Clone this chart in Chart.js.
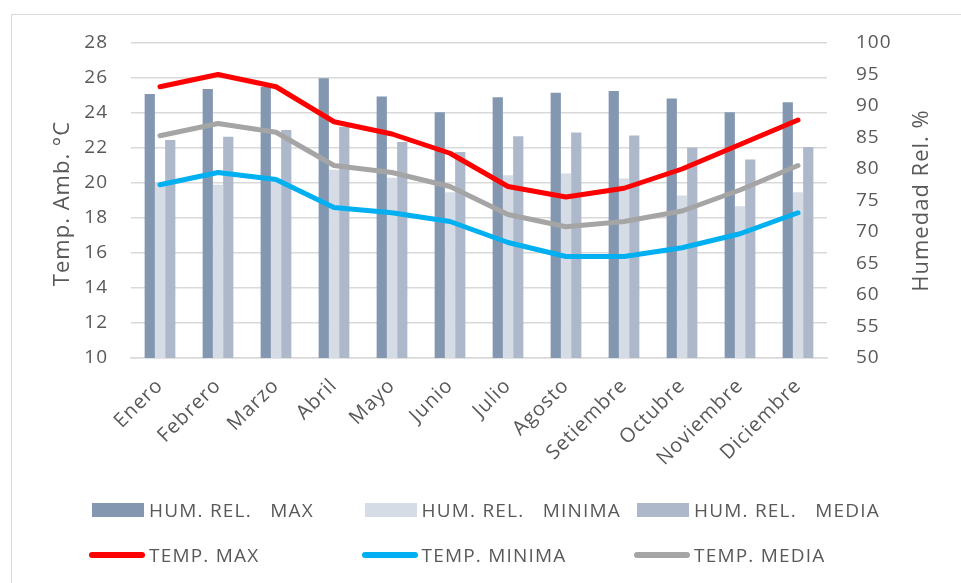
<!DOCTYPE html>
<html lang="es">
<head>
<meta charset="utf-8">
<title>Temperatura y humedad relativa mensual</title>
<script src="https://cdn.jsdelivr.net/npm/chart.js@4/dist/chart.umd.min.js"></script>
<style>
  html, body { margin: 0; padding: 0; background: #ffffff; }
  #wrap { position: relative; width: 961px; height: 583px; overflow: hidden; }
  #frame { position: absolute; left: 11px; top: 14px; width: 2000px; height: 2000px;
           border-left: 1px solid #d9d9d9; border-top: 1px solid #d9d9d9; }
  #chart { position: absolute; left: 0; top: 0; }
  .lg-item { position: absolute; height: 30px; display: flex; align-items: center; }
  .lg-swatch { width: 60px; height: 30px; position: relative; flex: none; }
  .lg-text { font-family: "Open Sans", sans-serif; font-size: 19px; letter-spacing: 1.2px;
             color: #595959; white-space: pre; line-height: 30px; }
</style>
</head>
<body>
<div id="wrap">
  <div id="frame"></div>
  <canvas id="chart" width="961" height="583"></canvas>
  <div id="legend"></div>
</div>
<script>
// Month names on the category axis
const months = ['Enero', 'Febrero', 'Marzo', 'Abril', 'Mayo', 'Junio',
                'Julio', 'Agosto', 'Setiembre', 'Octubre', 'Noviembre', 'Diciembre'];

// Relative humidity (%), right axis
const humMax   = [91.9, 92.7, 93.0, 94.4, 91.5, 89.0, 91.4, 92.1, 92.4, 91.2, 89.0, 90.6];
const humMin   = [77.8, 77.5, 78.0, 79.9, 78.6, 76.3, 79.0, 79.3, 78.5, 75.8, 74.1, 76.3];
const humMedia = [84.6, 85.1, 86.2, 86.7, 84.3, 82.7, 85.2, 85.8, 85.3, 83.4, 81.5, 83.5];

// Ambient temperature (°C), left axis
const tempMax   = [25.5, 26.2, 25.5, 23.5, 22.8, 21.7, 19.8, 19.2, 19.7, 20.8, 22.2, 23.6];
const tempMin   = [19.9, 20.6, 20.2, 18.6, 18.3, 17.8, 16.6, 15.8, 15.8, 16.3, 17.1, 18.3];
const tempMedia = [22.7, 23.4, 22.9, 21.0, 20.6, 19.8, 18.2, 17.5, 17.8, 18.4, 19.6, 21.0];

// Series names
const seriesNames = ['HUM. REL.   MAX', 'HUM. REL.   MINIMA', 'HUM. REL.   MEDIA',
                     'TEMP. MAX', 'TEMP. MINIMA', 'TEMP. MEDIA'];

// Axis titles
const tempAxisTitle = 'Temp. Amb. °C';
const humAxisTitle = 'Humedad Rel. %';

const textColor = '#595959';
const gridColor = '#d9d9d9';
const fontFamily = '"Open Sans", sans-serif';

// Draws both axis titles reading bottom-to-top, and sets the text tracking
const axisTitles = {
  id: 'axisTitles',
  beforeDraw(chart) {
    chart.ctx.letterSpacing = '1px';
  },
  afterDraw(chart) {
    const { ctx, chartArea } = chart;
    const cy = (chartArea.top + chartArea.bottom) / 2;
    ctx.save();
    ctx.font = '22px ' + fontFamily;
    ctx.fillStyle = textColor;
    ctx.textAlign = 'center';
    ctx.textBaseline = 'middle';
    ctx.save();
    ctx.translate(chartArea.left - 68, cy + 3);
    ctx.rotate(-Math.PI / 2);
    ctx.fillText(tempAxisTitle, 0, 0);
    ctx.restore();
    ctx.save();
    ctx.translate(chartArea.right + 95, cy);
    ctx.rotate(-Math.PI / 2);
    ctx.fillText(humAxisTitle, 0, 0);
    ctx.restore();
    ctx.restore();
  }
};

function barSet(label, data, color) {
  return { type: 'bar', label, data, backgroundColor: color, yAxisID: 'yH',
           order: 2, categoryPercentage: 0.53, barPercentage: 1.0, borderWidth: 0 };
}
function lineSet(label, data, color) {
  return { type: 'line', label, data, borderColor: color, backgroundColor: color,
           yAxisID: 'yT', order: 1, borderWidth: 5, pointRadius: 0, tension: 0,
           borderCapStyle: 'round', borderJoinStyle: 'round', fill: false };
}

function build() {
  const chart = new Chart(document.getElementById('chart'), {
    data: {
      labels: months,
      datasets: [
        barSet(seriesNames[0], humMax, '#8497b0'),
        barSet(seriesNames[1], humMin, '#d6dce5'),
        barSet(seriesNames[2], humMedia, '#adb9ca'),
        lineSet(seriesNames[3], tempMax, '#ff0000'),
        lineSet(seriesNames[4], tempMin, '#00b0f0'),
        lineSet(seriesNames[5], tempMedia, '#a5a5a5')
      ]
    },
    options: {
      responsive: false,
      animation: false,
      layout: { padding: { top: 43, left: 0, right: 0, bottom: 0 } },
      plugins: { legend: { display: false }, tooltip: { enabled: false } },
      scales: {
        x: {
          grid: { display: false },
          border: { display: true, color: gridColor, width: 1.5 },
          ticks: { color: textColor, font: { family: fontFamily, size: 20 },
                   minRotation: 45, maxRotation: 45, autoSkip: false, padding: 8 },
          afterFit(s) { s.height = 225; s.paddingLeft = 0; s.paddingRight = 0; }
        },
        yT: {
          position: 'left', min: 10, max: 28,
          grid: { color: gridColor, lineWidth: 1.5, drawTicks: false },
          border: { display: false },
          ticks: { stepSize: 2, color: textColor, padding: 23,
                   font: { family: fontFamily, size: 19 } },
          afterFit(s) { s.width = 131; s.paddingTop = 0; s.paddingBottom = 0; }
        },
        yH: {
          position: 'right', min: 50, max: 100,
          grid: { drawOnChartArea: false, drawTicks: false },
          border: { display: false },
          ticks: { stepSize: 5, color: textColor, padding: 29,
                   font: { family: fontFamily, size: 19 } },
          afterFit(s) { s.width = 134; s.paddingTop = 0; s.paddingBottom = 0; }
        }
      }
    },
    plugins: [axisTitles]
  });

  // Legend: three columns, bars on the first row, lines on the second
  const legend = document.getElementById('legend');
  chart.data.datasets.forEach((ds, i) => {
    const row = Math.floor(i / 3), col = i % 3;
    const item = document.createElement('div');
    item.className = 'lg-item';
    item.style.left = (89 + col * 272.5) + 'px';
    item.style.top = (row === 0 ? 495 : 540) + 'px';
    const sw = document.createElement('div');
    sw.className = 'lg-swatch';
    const mark = document.createElement('div');
    mark.style.position = 'absolute';
    if (ds.type === 'bar') {
      Object.assign(mark.style, { left: '3px', top: '8px', width: '52px', height: '14px',
                                  background: ds.backgroundColor });
    } else {
      Object.assign(mark.style, { left: '0px', top: '12px', width: '56px', height: '6px',
                                  borderRadius: '3px', background: ds.borderColor });
    }
    sw.appendChild(mark);
    const tx = document.createElement('span');
    tx.className = 'lg-text';
    tx.textContent = ds.label;
    item.appendChild(sw);
    item.appendChild(tx);
    legend.appendChild(item);
  });
}

if (document.fonts && document.fonts.load) {
  document.fonts.load('20px "Open Sans"').then(build, build);
} else {
  build();
}
</script>
</body>
</html>
